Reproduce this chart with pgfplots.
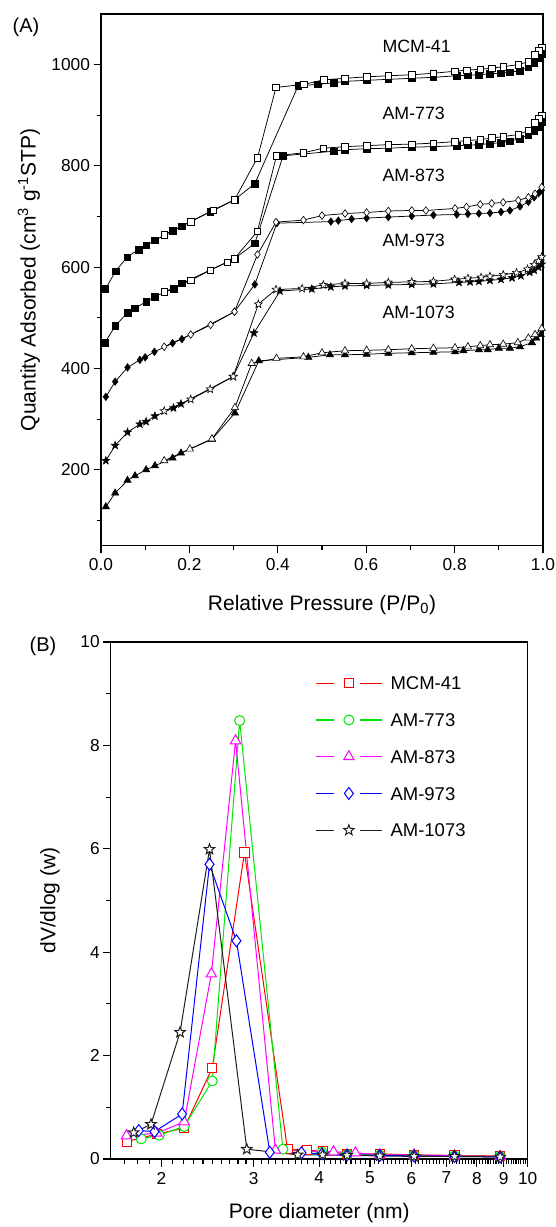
\documentclass[border=0pt]{standalone}
\usepackage{pgfplots}
\pgfplotsset{compat=1.18}
\usepackage{fontspec}
\setmainfont{Liberation Sans}
\newcommand\fs{\fontsize{17.3}{21}\selectfont}
\newcommand\fl{\fontsize{21}{25}\selectfont}
\newcommand\fn{\fontsize{17.8}{21}\selectfont}
\newcommand\fg{\fontsize{18.5}{22}\selectfont}
\pgfdeclareplotmark{fstar}{%
 \pgfpathmoveto{\pgfpointpolar{90}{\pgfplotmarksize}}%
 \pgfpathlineto{\pgfpointpolar{126}{0.42\pgfplotmarksize}}%
 \pgfpathlineto{\pgfpointpolar{162}{\pgfplotmarksize}}%
 \pgfpathlineto{\pgfpointpolar{198}{0.42\pgfplotmarksize}}%
 \pgfpathlineto{\pgfpointpolar{234}{\pgfplotmarksize}}%
 \pgfpathlineto{\pgfpointpolar{270}{0.42\pgfplotmarksize}}%
 \pgfpathlineto{\pgfpointpolar{306}{\pgfplotmarksize}}%
 \pgfpathlineto{\pgfpointpolar{342}{0.42\pgfplotmarksize}}%
 \pgfpathlineto{\pgfpointpolar{18}{\pgfplotmarksize}}%
 \pgfpathlineto{\pgfpointpolar{54}{0.42\pgfplotmarksize}}%
 \pgfpathclose
 \pgfusepathqfillstroke}
\definecolor{cgreen}{RGB}{0,230,0}
\definecolor{cmag}{RGB}{255,0,255}
\definecolor{cblue}{RGB}{0,0,255}
\definecolor{cred}{RGB}{255,0,0}
\definecolor{cblk}{RGB}{30,30,30}
\newcommand\legimg[3]{%
  \draw[draw=#1, line width=1.3pt] (0pt,0pt) -- (18pt,0pt);
  \draw[draw=#1, line width=1.3pt] (44pt,0pt) -- (66pt,0pt);
  \draw[draw=#1, fill=white, line width=1pt] plot[mark=#2, mark size=#3, only marks] coordinates {(33pt,0pt)};}
\pgfplotsset{
 ads/.style={black, line width=0.75pt, mark options={solid, fill=black, line width=0.5pt}},
 des/.style={black, line width=0.75pt, mark options={solid, fill=white, line width=0.6pt}},
 common/.style={scale only axis, tick align=outside, xtick pos=left, ytick pos=left,
   major tick length=7.5pt, minor tick length=4.5pt,
   every tick/.style={black, line width=1.1pt},
   axis line style={line width=1.3pt},
   tick label style={font=\fs},
   xticklabel style={yshift=-2pt},
   /pgf/number format/assume math mode=true,
   label style={font=\fl}, clip=false},
}
\begin{document}
\begin{tikzpicture}
\useasboundingbox (0,0) rectangle (555pt,-1227pt);
\node[font=\fontsize{20}{24}\selectfont] at (26pt,-27pt) {(A)};
\node[font=\fontsize{20}{24}\selectfont] at (43pt,-646pt) {(B)};
\begin{axis}[common,
 at={(101pt,-545.7pt)}, anchor=south west, width=442pt, height=531.7pt,
 xmin=0, xmax=1, ymin=50, ymax=1100,
 xtick={0,0.2,0.4,0.6,0.8,1.0}, xticklabels={0.0,0.2,0.4,0.6,0.8,1.0},
 minor xtick={0.1,0.3,0.5,0.7,0.9},
 ytick={200,400,600,800,1000}, yticklabels={200,400,600,800,1000},
 minor ytick={100,300,500,700,900},
 xlabel={Relative Pressure (P/P\textsubscript{0})},
 ylabel={Quantity Adsorbed (cm\textsuperscript{3} g\textsuperscript{-1}STP)},
 xlabel style={at={(axis description cs:0.5,-0.111)}, anchor=center},
 ylabel style={at={(axis description cs:-0.163,0.5)}, anchor=center},
]
% MCM-41
\addplot[ads, mark=square*, mark size=3.3pt] coordinates {(0.010,557)(0.033,592)(0.059,620)(0.085,635)(0.102,643)(0.122,653)(0.162,672)(0.183,681)(0.247,710)(0.302,733)(0.348,765)(0.446,958)(0.490,961)(0.526,964)(0.552,967)(0.601,969)(0.650,971)(0.703,973)(0.752,975)(0.805,978)(0.830,979)(0.855,980)(0.880,982)(0.905,983)(0.925,985)(0.948,988)(0.967,995)(0.980,1004)(0.990,1014)(0.997,1022)};
\addplot[des, mark=square*, mark size=3.3pt] coordinates {(0.997,1034)(0.990,1027)(0.982,1020)(0.967,1006)(0.944,1000)(0.910,996)(0.884,993)(0.858,991)(0.827,989)(0.801,987)(0.752,983)(0.703,980)(0.650,978)(0.601,976)(0.552,973)(0.504,970)(0.459,961)(0.396,955)(0.354,816)(0.302,733)(0.254,712)(0.203,690)(0.143,664)};
% AM-773
\addplot[ads, mark=square*, mark size=3.3pt] coordinates {(0.009,451)(0.032,484)(0.060,510)(0.077,519)(0.102,532)(0.122,542)(0.164,558)(0.183,568)(0.302,617)(0.348,647)(0.412,820)(0.526,829)(0.552,832)(0.601,834)(0.650,835)(0.703,837)(0.752,838)(0.805,840)(0.830,841)(0.855,842)(0.880,844)(0.905,846)(0.925,849)(0.948,854)(0.967,861)(0.980,869)(0.990,877)(0.997,886)};
\addplot[des, mark=square*, mark size=3.3pt] coordinates {(0.997,900)(0.990,893)(0.982,885)(0.967,870)(0.944,862)(0.910,858)(0.884,855)(0.858,852)(0.827,850)(0.801,848)(0.752,845)(0.703,843)(0.650,842)(0.601,840)(0.552,838)(0.503,835)(0.458,826)(0.397,820)(0.354,671)(0.302,617)(0.286,610)(0.247,594)(0.203,574)(0.143,551)};
% AM-873
\addplot[ads, mark=diamond*, mark size=3.8pt] coordinates {(0.011,344)(0.032,374)(0.060,402)(0.088,417)(0.100,422)(0.121,433)(0.162,450)(0.183,458)(0.302,512)(0.348,566)(0.398,687)(0.520,690)(0.537,692)(0.567,695)(0.601,697)(0.650,699)(0.703,701)(0.752,703)(0.805,704)(0.830,705)(0.855,706)(0.880,707)(0.905,709)(0.925,712)(0.948,720)(0.967,729)(0.980,738)(0.990,746)(0.997,752)};
\addplot[des, mark=diamond*, mark size=3.8pt] coordinates {(0.997,758)(0.982,745)(0.967,738)(0.944,732)(0.910,728)(0.884,726)(0.858,724)(0.827,719)(0.801,716)(0.735,712)(0.703,712)(0.650,711)(0.601,708)(0.552,706)(0.500,702)(0.458,693)(0.396,689)(0.354,625)(0.302,512)(0.248,486)(0.203,467)(0.143,443)};
% AM-973
\addplot[ads, mark=fstar, mark size=4.2pt] coordinates {(0.011,218)(0.032,248)(0.060,274)(0.088,290)(0.102,295)(0.122,306)(0.164,322)(0.181,330)(0.299,384)(0.346,470)(0.405,553)(0.477,557)(0.520,561)(0.552,563)(0.601,564)(0.650,565)(0.703,566)(0.752,567)(0.810,570)(0.835,571)(0.855,572)(0.880,574)(0.905,576)(0.930,579)(0.950,583)(0.970,590)(0.980,594)(0.990,600)(0.997,606)};
\addplot[des, mark=fstar, mark size=4.2pt] coordinates {(0.997,620)(0.990,612)(0.980,605)(0.965,596)(0.940,589)(0.910,585)(0.880,582)(0.860,580)(0.830,578)(0.800,576)(0.752,572)(0.703,571)(0.650,570)(0.601,568)(0.552,568)(0.503,565)(0.455,558)(0.396,556)(0.356,527)(0.299,384)(0.247,359)(0.203,339)(0.143,316)};
% AM-1073
\addplot[ads, mark=triangle*, mark size=4.2pt] coordinates {(0.011,127)(0.032,154)(0.060,179)(0.077,188)(0.102,200)(0.122,208)(0.162,223)(0.181,233)(0.251,260)(0.303,312)(0.357,415)(0.469,422)(0.518,427)(0.552,427)(0.601,428)(0.650,430)(0.703,431)(0.752,432)(0.801,433)(0.820,435)(0.855,437)(0.875,437)(0.900,440)(0.925,440)(0.948,443)(0.975,451)(0.985,460)(0.995,467)};
\addplot[des, mark=triangle*, mark size=4.2pt] coordinates {(0.997,479)(0.982,467)(0.967,460)(0.943,451)(0.910,448)(0.880,447)(0.858,445)(0.830,443)(0.801,441)(0.752,440)(0.703,439)(0.650,437)(0.601,436)(0.552,435)(0.500,431)(0.458,423)(0.397,420)(0.341,410)(0.303,323)(0.251,261)(0.201,241)(0.143,218)};
\node[anchor=west, font=\fn] at (axis cs:0.629,1037) {MCM-41};
\node[anchor=west, font=\fn] at (axis cs:0.629,903) {AM-773};
\node[anchor=west, font=\fn] at (axis cs:0.629,781) {AM-873};
\node[anchor=west, font=\fn] at (axis cs:0.629,653) {AM-973};
\node[anchor=west, font=\fn] at (axis cs:0.629,511) {AM-1073};
\end{axis}
\begin{axis}[common,
 at={(110.7pt,-1159pt)}, anchor=south west, width=417pt, height=517pt,
 xmode=log, xmin=1.6, xmax=10, ymin=0, ymax=10,
 xtick={2,3,4,5,6,7,8,9,10}, xticklabels={2,3,4,5,6,7,8,9,10},
 minor xtick={1.7,1.8,1.9,2.1,2.2,2.3,2.4,2.5,2.6,2.7,2.8,2.9,3.1,3.2,3.3,3.4,3.5,3.6,3.7,3.8,3.9,4.1,4.2,4.3,4.4,4.5,4.6,4.7,4.8,4.9,5.1,5.2,5.3,5.4,5.5,5.6,5.7,5.8,5.9,6.1,6.2,6.3,6.4,6.5,6.6,6.7,6.8,6.9,7.1,7.2,7.3,7.4,7.5,7.6,7.7,7.8,7.9,8.1,8.2,8.3,8.4,8.5,8.6,8.7,8.8,8.9,9.1,9.2,9.3,9.4,9.5,9.6,9.7,9.8,9.9},
 ytick={0,2,4,6,8,10}, yticklabels={0,2,4,6,8,10},
 minor ytick={1,3,5,7,9},
 xlabel={Pore diameter (nm)},
 ylabel={dV/dlog (w)},
 xlabel style={at={(axis description cs:0.5,-0.104)}, anchor=center},
 ylabel style={at={(axis description cs:-0.146,0.5)}, anchor=center},
 legend style={at={(axis description cs:0.490,0.9374)}, anchor=north west, draw=none, fill=none,
   font=\fg, row sep=19.45pt, inner sep=0pt,
   nodes={inner sep=2pt, text height=13.3pt, text depth=0pt},
   /tikz/every odd column/.append style={column sep=6pt}},
 legend cell align=left,
]
\addplot[color=cred, line width=1pt, mark=square*, mark size=4.6pt, mark options={solid, fill=white},
  legend image code/.code={\legimg{cred}{square*}{4.6pt}}] coordinates {(1.72,0.34)(1.96,0.48)(2.21,0.60)(2.50,1.76)(2.88,5.93)(3.48,0.19)(3.79,0.17)(4.07,0.15)(4.52,0.10)(5.22,0.10)(6.07,0.08)(7.25,0.07)(8.86,0.06)};
\addlegendentry{MCM-41}
\addplot[color=cgreen, line width=1pt, mark=*, mark size=5pt, mark options={solid, fill=white},
  legend image code/.code={\legimg{cgreen}{*}{5pt}}] coordinates {(1.83,0.39)(1.98,0.46)(2.21,0.63)(2.50,1.51)(2.82,8.48)(3.41,0.19)(4.05,0.13)(4.52,0.09)(5.22,0.08)(6.07,0.07)(7.25,0.06)(8.86,0.05)};
\addlegendentry{AM-773}
\addplot[color=cmag, line width=1pt, mark=triangle*, mark size=6pt, mark options={solid, fill=white},
  legend image code/.code={\legimg{cmag}{triangle*}{6pt}}] coordinates {(1.715,0.45)(1.96,0.50)(2.21,0.72)(2.49,3.58)(2.77,8.09)(3.30,0.17)(4.26,0.14)(4.69,0.12)(5.22,0.08)(6.07,0.08)(7.25,0.06)(8.86,0.05)};
\addlegendentry{AM-873}
\addplot[color=cblue, line width=1pt, mark=diamond*, mark size=6pt, mark options={solid, fill=white},
  legend image code/.code={\legimg{cblue}{diamond*}{6pt}}] coordinates {(1.81,0.55)(1.94,0.53)(2.19,0.87)(2.47,5.70)(2.78,4.22)(3.22,0.13)(3.70,0.12)(4.05,0.10)(4.52,0.08)(5.22,0.07)(6.07,0.06)(7.25,0.05)(8.86,0.04)};
\addlegendentry{AM-973}
\addplot[color=cblk, line width=1pt, mark=fstar, mark size=5.5pt, mark options={solid, fill=white},
  legend image code/.code={\legimg{cblk}{fstar}{5.5pt}}] coordinates {(1.77,0.51)(1.91,0.67)(2.17,2.45)(2.47,5.99)(2.91,0.19)(3.64,0.08)(4.06,0.08)(4.52,0.07)(5.22,0.06)(6.07,0.05)(7.25,0.05)(8.86,0.04)};
\addlegendentry{AM-1073}
\end{axis}
\end{tikzpicture}
\end{document}
